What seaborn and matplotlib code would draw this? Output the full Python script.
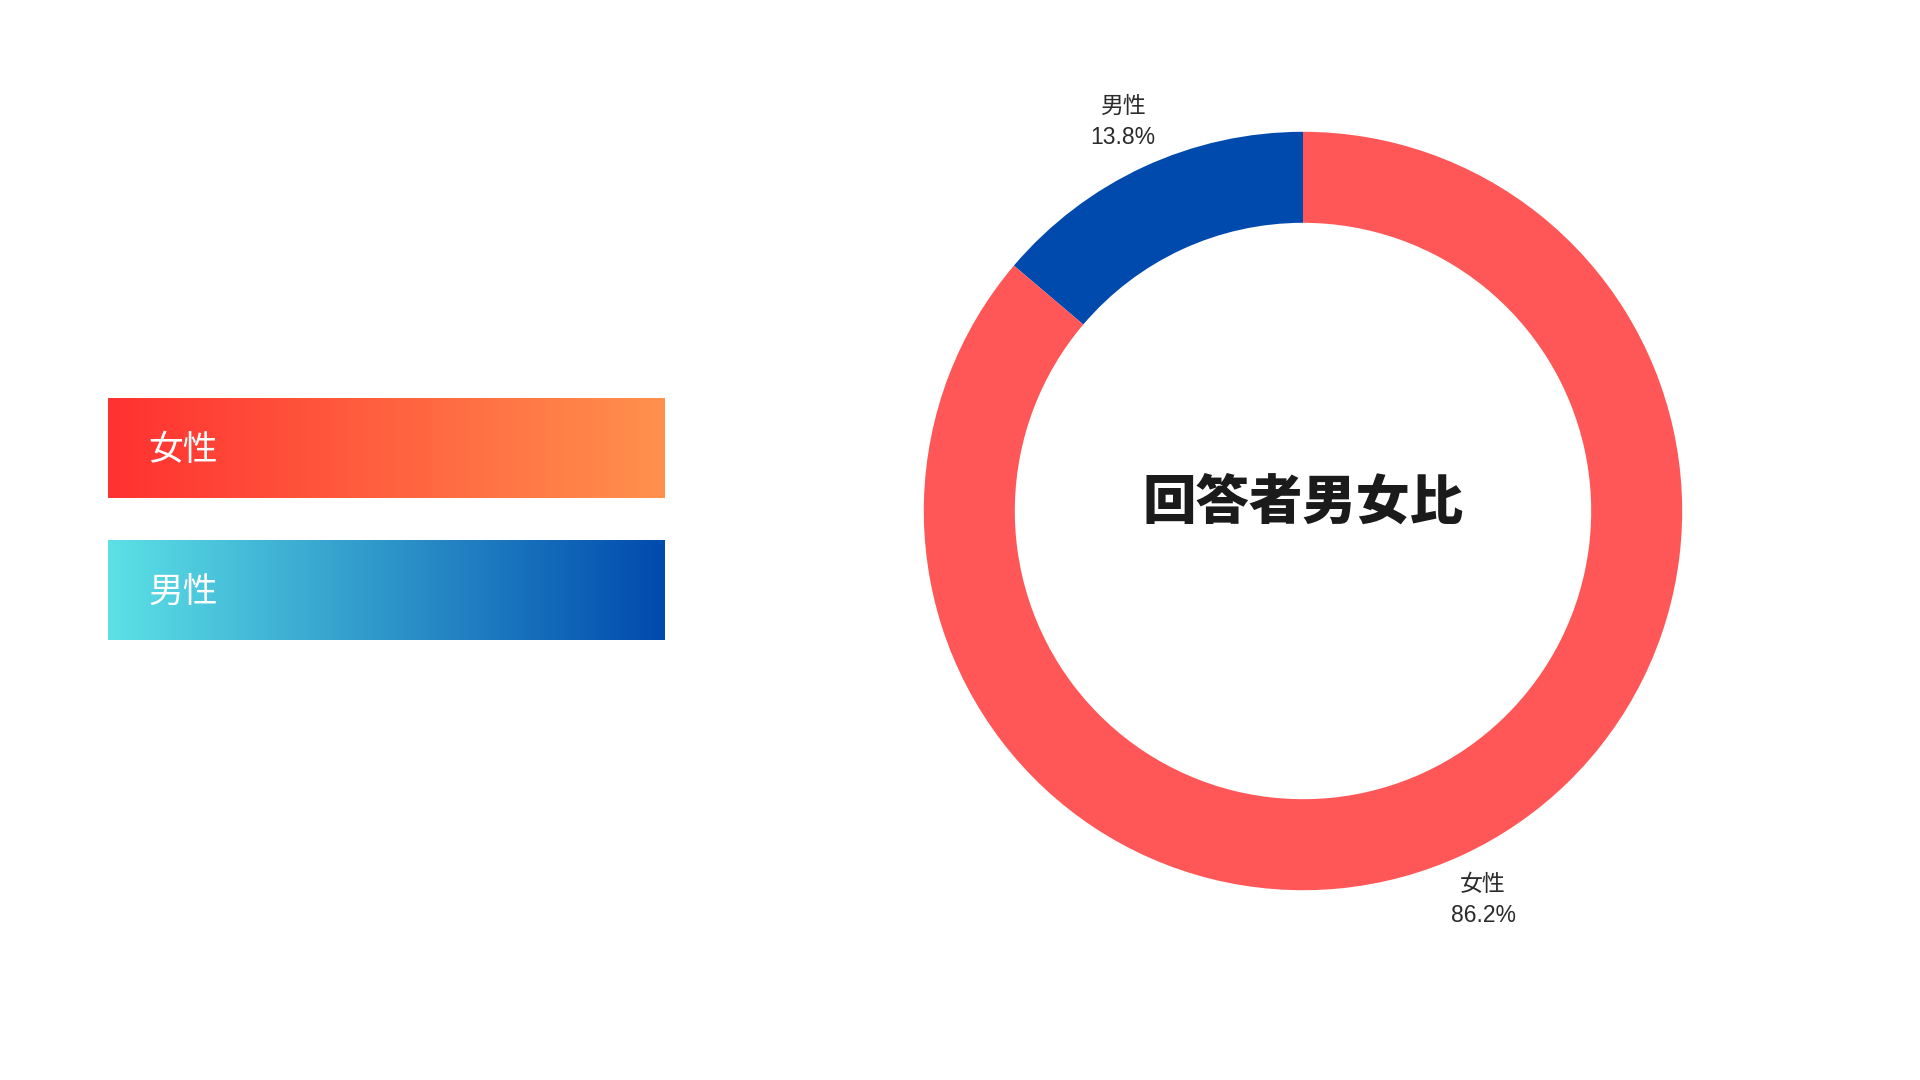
"""
回答者男女比 : donut chart + gradient legend bars.
"""

import numpy as np
import matplotlib.pyplot as plt
import seaborn as sns
from matplotlib.colors import LinearSegmentedColormap

# données
categories = ["男性", "女性"]
shares = [13.8, 86.2]
legend_order = ["女性", "男性"]
legend_len = [1, 1]
title = "回答者男女比"

donut_colors = {"男性": "#004AAD", "女性": "#FF5757"}
gradients = {"女性": ("#FF3131", "#FF914D"), "男性": ("#5CE1E6", "#004AAD")}

sns.set_theme(style="white")
plt.rcParams["font.family"] = ["Noto Sans CJK JP", "DejaVu Sans"]

fig = plt.figure(figsize=(19.2, 10.8), dpi=100)
fig.patch.set_facecolor("white")

# 1. Barres de légende en dégradé
ax_leg = fig.add_axes([108 / 1920, 419 / 1080, 556 / 1920, 284 / 1080])
sns.barplot(x=legend_len, y=legend_order, orient="h", width=0.711,
            color="white", ax=ax_leg)
ax_leg.axis("off")
grad = np.linspace(0, 1, 256).reshape(1, -1)
for patch, name in zip(ax_leg.patches, legend_order):
    x0, y0 = patch.get_x(), patch.get_y()
    w, h = patch.get_width(), patch.get_height()
    cmap = LinearSegmentedColormap.from_list(name, gradients[name])
    im = ax_leg.imshow(grad, cmap=cmap, aspect="auto",
                       extent=(x0, x0 + w, y0 + h, y0), zorder=2)
    im.set_clip_path(patch)
    ax_leg.text(x0 + 0.072, y0 + h / 2 + 0.02, name, color="white",
                fontsize=25, ha="left", va="center", zorder=3)
ax_leg.set_xlim(0, 1)
ax_leg.set_ylim(1.5, -0.5)

# 2. Donut
ax = fig.add_axes([829 / 1920, 95 / 1080, 948 / 1920, 948 / 1080])
labels = [f"{c}\n{s}%" for c, s in zip(categories, shares)]
wedges, texts = ax.pie(shares, labels=labels,
                       colors=[donut_colors[c] for c in categories],
                       startangle=90, counterclock=True, labeldistance=1.13,
                       wedgeprops=dict(width=0.24, linewidth=0),
                       textprops=dict(fontsize=16.5, color="#2b2b2b",
                                      linespacing=1.45,
                                      family=["Liberation Sans",
                                              "Noto Sans CJK JP"]))
for t in texts:
    t.set_ha("center")
    t.set_va("center")
ax.text(0, 0.022, title, ha="center", va="center", fontsize=38.5,
        fontweight="heavy", color="#1b1b1b")
ax.set_xlim(-1.25, 1.25)
ax.set_ylim(-1.25, 1.25)
ax.set_aspect("equal")
ax.axis("off")

fig.savefig("out.png", dpi=100, facecolor="white")
plt.close(fig)
